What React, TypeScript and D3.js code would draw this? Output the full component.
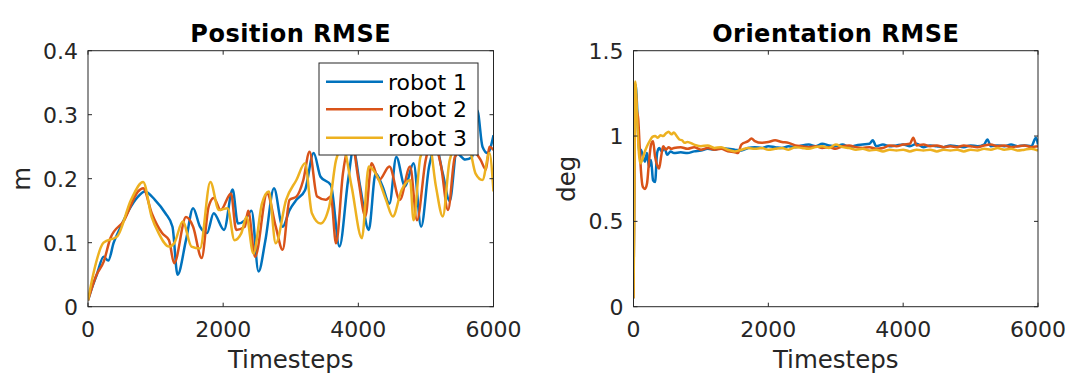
import React from "react";
import * as d3 from "d3";

// robot colours (MATLAB default order)
const colors = ["#0072BD", "#D95319", "#EDB120"];
const seriesNames = ["robot 1", "robot 2", "robot 3"];

const xTicks = [0, 2000, 4000, 6000];
const posTicks = [0, 0.1, 0.2, 0.3, 0.4];
const oriTicks = [0, 0.5, 1, 1.5];

// Position RMSE [timestep, m]
const posRobot1: [number, number][] = [
  [0, 0.01], [60, 0.03], [130, 0.05], [230, 0.078], [300, 0.072], [380, 0.1], [485, 0.125], [600, 0.15],
  [740, 0.172], [840, 0.18], [990, 0.167], [1145, 0.146], [1250, 0.125], [1325, 0.05], [1450, 0.104],
  [1555, 0.154], [1657, 0.125], [1760, 0.115], [1860, 0.146], [2013, 0.12], [2140, 0.183], [2218, 0.13],
  [2320, 0.135], [2420, 0.15], [2523, 0.055], [2625, 0.104], [2752, 0.185], [2880, 0.125], [2982, 0.151],
  [3084, 0.167], [3211, 0.182], [3339, 0.24], [3441, 0.203], [3594, 0.19], [3721, 0.094], [3849, 0.198],
  [3925, 0.245], [4027, 0.188], [4154, 0.12], [4256, 0.208], [4358, 0.188], [4460, 0.161], [4562, 0.234],
  [4690, 0.188], [4817, 0.224], [4929, 0.125], [5047, 0.219], [5148, 0.25], [5250, 0.208], [5352, 0.165],
  [5454, 0.24], [5582, 0.23], [5684, 0.234], [5760, 0.307], [5837, 0.25], [5913, 0.24], [6000, 0.268],
];
const posRobot2: [number, number][] = [
  [0, 0.01], [127, 0.05], [231, 0.07], [331, 0.107], [535, 0.135], [740, 0.18], [816, 0.185], [943, 0.146],
  [1096, 0.115], [1198, 0.104], [1275, 0.068], [1450, 0.14], [1555, 0.125], [1682, 0.076], [1784, 0.156],
  [1860, 0.17], [1963, 0.151], [2116, 0.177], [2192, 0.12], [2320, 0.125], [2370, 0.15], [2473, 0.078],
  [2650, 0.177], [2778, 0.125], [2880, 0.089], [2982, 0.167], [3084, 0.172], [3186, 0.198], [3278, 0.242],
  [3390, 0.172], [3517, 0.167], [3594, 0.172], [3670, 0.099], [3772, 0.208], [3900, 0.26], [4002, 0.198],
  [4104, 0.141], [4196, 0.224], [4308, 0.198], [4460, 0.219], [4613, 0.167], [4766, 0.219], [4868, 0.135],
  [4996, 0.229], [5098, 0.26], [5225, 0.219], [5327, 0.151], [5429, 0.234], [5557, 0.245], [5684, 0.245],
  [5811, 0.229], [5888, 0.214], [5939, 0.25], [6000, 0.245],
];
const posRobot3: [number, number][] = [
  [0, 0.01], [76, 0.05], [230, 0.1], [433, 0.11], [637, 0.167], [816, 0.195], [943, 0.14], [1045, 0.115],
  [1198, 0.094], [1275, 0.099], [1402, 0.133], [1530, 0.094], [1657, 0.091], [1810, 0.195], [1937, 0.151],
  [2065, 0.154], [2167, 0.104], [2269, 0.115], [2345, 0.14], [2447, 0.083], [2574, 0.161], [2676, 0.18],
  [2778, 0.099], [2931, 0.167], [3084, 0.198], [3211, 0.224], [3313, 0.146], [3441, 0.13], [3568, 0.156],
  [3670, 0.229], [3772, 0.25], [3900, 0.188], [4053, 0.107], [4154, 0.219], [4282, 0.203], [4409, 0.167],
  [4511, 0.141], [4639, 0.182], [4766, 0.198], [4817, 0.135], [4919, 0.234], [5047, 0.255], [5148, 0.188],
  [5250, 0.141], [5352, 0.229], [5480, 0.255], [5633, 0.25], [5735, 0.208], [5837, 0.198], [5939, 0.24],
  [6000, 0.18],
];

// Orientation RMSE [timestep, deg]
const oriRobot1: [number, number][] = [
  [0, 0.05], [15, 0.9], [30, 1.3], [50, 1.2], [70, 1.0], [90, 0.9], [110, 0.92], [140, 0.88], [170, 0.85],
  [200, 0.9], [230, 0.82], [260, 0.86], [290, 0.74], [320, 0.73], [350, 0.9], [380, 0.93], [420, 0.91],
  [460, 0.93], [500, 0.89], [550, 0.91], [600, 0.9], [700, 0.905], [800, 0.9], [900, 0.91], [1000, 0.915],
  [1100, 0.925], [1200, 0.92], [1300, 0.93], [1400, 0.925], [1500, 0.92], [1600, 0.915], [1700, 0.93],
  [1800, 0.935], [1900, 0.93], [2000, 0.94], [2100, 0.935], [2200, 0.93], [2300, 0.94], [2400, 0.935],
  [2500, 0.945], [2600, 0.95], [2700, 0.94], [2800, 0.955], [2900, 0.945], [3000, 0.94], [3100, 0.95],
  [3200, 0.935], [3300, 0.945], [3400, 0.95], [3500, 0.955], [3550, 0.975], [3600, 0.94], [3700, 0.95],
  [3800, 0.94], [3900, 0.945], [4000, 0.95], [4100, 0.94], [4200, 0.955], [4300, 0.935], [4400, 0.945],
  [4500, 0.94], [4600, 0.935], [4700, 0.945], [4800, 0.94], [4900, 0.935], [5000, 0.945], [5100, 0.94],
  [5200, 0.95], [5250, 0.98], [5300, 0.94], [5400, 0.945], [5500, 0.94], [5600, 0.95], [5700, 0.94],
  [5800, 0.945], [5900, 0.94], [5970, 0.99], [6000, 0.95],
];
const oriRobot2: [number, number][] = [
  [0, 0.05], [15, 0.9], [30, 1.28], [50, 1.15], [70, 1.1], [90, 0.95], [110, 0.8], [140, 0.7], [170, 0.69],
  [200, 0.72], [230, 0.85], [260, 0.95], [290, 0.97], [320, 0.88], [350, 0.83], [380, 0.81], [410, 0.88],
  [440, 0.94], [480, 0.92], [520, 0.935], [560, 0.925], [600, 0.93], [700, 0.935], [800, 0.925], [900, 0.935],
  [1000, 0.92], [1100, 0.93], [1200, 0.92], [1300, 0.925], [1400, 0.91], [1500, 0.905], [1550, 0.9],
  [1600, 0.95], [1700, 0.97], [1750, 0.985], [1800, 0.97], [1900, 0.96], [2000, 0.965], [2100, 0.975],
  [2200, 0.965], [2300, 0.96], [2400, 0.945], [2500, 0.94], [2600, 0.935], [2700, 0.94], [2800, 0.93],
  [2900, 0.935], [3000, 0.925], [3100, 0.94], [3200, 0.945], [3300, 0.935], [3400, 0.93], [3500, 0.935],
  [3600, 0.925], [3700, 0.93], [3800, 0.945], [3900, 0.94], [4000, 0.95], [4100, 0.955], [4150, 0.99],
  [4200, 0.945], [4300, 0.95], [4400, 0.94], [4500, 0.945], [4600, 0.935], [4700, 0.94], [4800, 0.935],
  [4900, 0.945], [5000, 0.94], [5100, 0.935], [5200, 0.945], [5300, 0.95], [5400, 0.94], [5500, 0.945],
  [5600, 0.935], [5700, 0.94], [5800, 0.945], [5900, 0.935], [6000, 0.94],
];
const oriRobot3: [number, number][] = [
  [0, 0.05], [10, 0.5], [25, 1.32], [45, 1.2], [60, 1.05], [80, 0.9], [100, 0.84], [130, 0.86], [160, 0.9],
  [200, 0.94], [240, 0.97], [280, 0.995], [320, 1.0], [360, 0.99], [400, 1.005], [440, 1.0], [480, 1.015],
  [520, 1.025], [560, 1.01], [600, 1.02], [640, 1.0], [680, 0.98], [720, 0.975], [760, 0.96], [800, 0.965],
  [900, 0.95], [1000, 0.94], [1100, 0.945], [1200, 0.93], [1300, 0.935], [1400, 0.92], [1500, 0.91],
  [1600, 0.92], [1700, 0.93], [1800, 0.925], [1900, 0.93], [2000, 0.92], [2100, 0.925], [2200, 0.93],
  [2300, 0.92], [2400, 0.935], [2500, 0.93], [2600, 0.925], [2700, 0.935], [2800, 0.94], [2900, 0.93],
  [3000, 0.95], [3100, 0.935], [3200, 0.93], [3300, 0.92], [3400, 0.925], [3500, 0.915], [3600, 0.92],
  [3700, 0.91], [3800, 0.92], [3900, 0.915], [4000, 0.92], [4100, 0.91], [4200, 0.92], [4300, 0.915],
  [4400, 0.92], [4500, 0.91], [4600, 0.92], [4700, 0.915], [4800, 0.92], [4900, 0.91], [5000, 0.92],
  [5100, 0.915], [5200, 0.925], [5300, 0.92], [5400, 0.93], [5500, 0.92], [5600, 0.925], [5700, 0.915],
  [5800, 0.92], [5900, 0.925], [6000, 0.915],
];

const font = "'DejaVu Sans', sans-serif";
const axisColor = "#262626";
const top = 50.7;
const bottom = 306.7;

type PanelProps = {
  id: string;
  left: number;
  right: number;
  title: string;
  ylabel: string;
  ylabelX: number;
  yMax: number;
  yTicks: number[];
  series: [number, number][][];
  legend?: boolean;
};

const Panel = ({ id, left, right, title, ylabel, ylabelX, yMax, yTicks, series, legend }: PanelProps) => {
  const x = d3.scaleLinear().domain([0, 6000]).range([left, right]);
  const y = d3.scaleLinear().domain([0, yMax]).range([bottom, top]);
  const line = d3.line<[number, number]>()
    .x(d => x(d[0]))
    .y(d => y(d[1]))
    .curve(d3.curveMonotoneX);
  const cx = (left + right) / 2;
  const tick = 4;

  // legend box in pixels
  const lgX0 = 319, lgX1 = 478, lgY0 = 63, lgY1 = 155;
  const rows = [81.7, 109.3, 137.7];

  return (
    <g>
      <defs>
        <clipPath id={id}>
          <rect x={left} y={top} width={right - left} height={bottom - top} />
        </clipPath>
      </defs>
      <rect x={left} y={top} width={right - left} height={bottom - top} fill="#fff" />
      <g clipPath={`url(#${id})`}>
        {series.map((s, i) => (
          <path key={i} d={line(s) ?? ""} fill="none" stroke={colors[i]} strokeWidth={2.5} strokeLinejoin="round" />
        ))}
      </g>
      {/* box and ticks */}
      <rect x={left} y={top} width={right - left} height={bottom - top} fill="none" stroke={axisColor} strokeWidth={1} />
      {xTicks.map(t => (
        <g key={"x" + t}>
          <line x1={x(t)} x2={x(t)} y1={bottom} y2={bottom - tick} stroke={axisColor} />
          <line x1={x(t)} x2={x(t)} y1={top} y2={top + tick} stroke={axisColor} />
          <text x={x(t)} y={337} textAnchor="middle" fontFamily={font} fontSize={22} fill={axisColor}>{t}</text>
        </g>
      ))}
      {yTicks.map(t => (
        <g key={"y" + t}>
          <line x1={left} x2={left + tick} y1={y(t)} y2={y(t)} stroke={axisColor} />
          <line x1={right} x2={right - tick} y1={y(t)} y2={y(t)} stroke={axisColor} />
          <text x={left - 10} y={y(t)} dy="0.36em" textAnchor="end" fontFamily={font} fontSize={22} fill={axisColor}>{t}</text>
        </g>
      ))}
      <text x={cx} y={368} textAnchor="middle" fontFamily={font} fontSize={24.5} fill={axisColor}>Timesteps</text>
      <text transform={`translate(${ylabelX},${(top + bottom) / 2}) rotate(-90)`} textAnchor="middle" fontFamily={font} fontSize={24.5} fill={axisColor}>{ylabel}</text>
      <text x={cx} y={42} textAnchor="middle" fontFamily={font} fontSize={24} fontWeight="bold" letterSpacing={0.5} fill="#000">{title}</text>
      {legend && (
        <g>
          <rect x={lgX0} y={lgY0} width={lgX1 - lgX0} height={lgY1 - lgY0} fill="#fff" stroke={axisColor} strokeWidth={1} />
          {seriesNames.map((n, i) => (
            <g key={n}>
              <line x1={326} x2={383} y1={rows[i]} y2={rows[i]} stroke={colors[i]} strokeWidth={2.5} />
              <text x={388} y={rows[i]} dy="0.36em" fontFamily={font} fontSize={22} fill="#000">{n}</text>
            </g>
          ))}
        </g>
      )}
    </g>
  );
};

export default function App() {
  return (
    <div style={{ position: "absolute", left: 0, top: 0 }}>
      <svg width={1085} height={384} viewBox="0 0 1085 384" style={{ display: "block", background: "#fff" }}>
        <Panel id="clipPos" left={88} right={493.5} title="Position RMSE" ylabel="m" ylabelX={30}
          yMax={0.4} yTicks={posTicks} series={[posRobot1, posRobot2, posRobot3]} legend />
        <Panel id="clipOri" left={633.5} right={1038} title="Orientation RMSE" ylabel="deg" ylabelX={575}
          yMax={1.5} yTicks={oriTicks} series={[oriRobot1, oriRobot2, oriRobot3]} />
      </svg>
    </div>
  );
}
